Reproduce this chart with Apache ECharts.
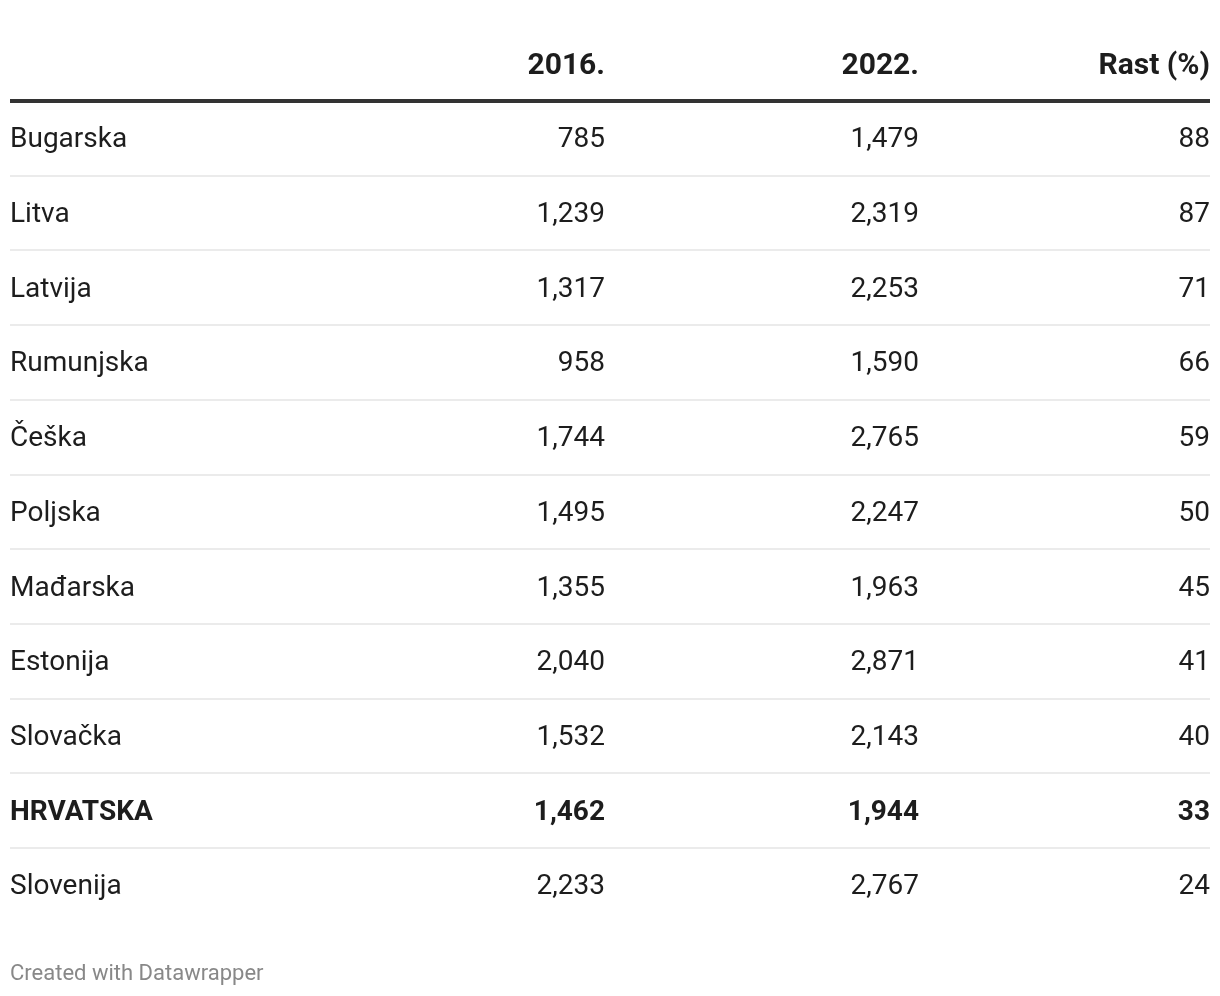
<!DOCTYPE html>
<html>
<head>
<meta charset="utf-8">
<script src="https://cdn.jsdelivr.net/npm/echarts@6/dist/echarts.min.js"></script>
<style>
html,body{margin:0;padding:0;background:#fff;}
#chart{width:1220px;height:996px;}
</style>
</head>
<body>
<div id="chart"></div>
<script>
const countries = ['Bugarska','Litva','Latvija','Rumunjska','Češka','Poljska','Mađarska','Estonija','Slovačka','HRVATSKA','Slovenija'];
const values2016 = [785,1239,1317,958,1744,1495,1355,2040,1532,1462,2233];
const values2022 = [1479,2319,2253,1590,2765,2247,1963,2871,2143,1944,2767];
const growth = [88,87,71,66,59,50,45,41,40,33,24];
const headers = ['2016.','2022.','Rast (%)'];
const highlight = 'HRVATSKA';

const FONT = 'Roboto, "Noto Sans", sans-serif';
const fmt = v => v.toLocaleString('en-US');

const chart = echarts.init(document.getElementById('chart'), null, {renderer:'canvas'});

// column right edges in x-axis units (layout)
const COLS = [595, 909, 1200];

const data = countries.map((c,i)=>[i, values2016[i], values2022[i], growth[i]]);

function renderItem(params, api){
  const i = api.value(0);
  const name = countries[i];
  const bold = name === highlight;
  const center = api.coord([0, i]);
  const band = api.size([0, 1])[1];
  const y = center[1] + 2;
  const children = [];
  const weight = bold ? 'bold' : 'normal';
  children.push({type:'text', style:{text:name, x:center[0], y:y, align:'left', verticalAlign:'middle', font: weight+' 28px '+FONT, fill:'#1d1d1d'}});
  const vals = [fmt(api.value(1)), fmt(api.value(2)), String(api.value(3))];
  for(let k=0;k<3;k++){
    const p = api.coord([COLS[k], i]);
    children.push({type:'text', style:{text:vals[k], x:p[0], y:y, align:'right', verticalAlign:'middle', font: weight+' 28px '+FONT, fill:'#1d1d1d'}});
  }
  if(i < countries.length-1){
    const l = api.coord([0,i]), r = api.coord([1200,i]);
    const ly = Math.round(center[1]+band/2);
    children.push({type:'line', shape:{x1:l[0], y1:ly, x2:r[0], y2:ly}, style:{stroke:'#ebebeb', lineWidth:2}});
  }
  if(i === 0){
    for(let k=0;k<3;k++){
      const p = api.coord([COLS[k], i]);
      children.push({type:'text', style:{text:headers[k], x:p[0], y:center[1]-band/2-35, align:'right', verticalAlign:'middle', font:'bold 30px '+FONT, fill:'#1d1d1d'}});
    }
  }
  return {type:'group', children};
}

chart.setOption({
  animation:false,
  backgroundColor:'#fff',
  grid:{left:10, right:10, top:101, height:11*74.7},
  xAxis:{type:'value', min:0, max:1200, position:'top',
    axisLine:{show:true, onZero:false, lineStyle:{color:'#333', width:4, cap:'butt'}},
    axisTick:{show:false}, axisLabel:{show:false}, splitLine:{show:false}},
  yAxis:{type:'category', inverse:true, data:countries, show:false},
  series:[{type:'custom', renderItem, data, encode:{y:0, x:1}, clip:false}],
  graphic:[{type:'text', left:10, top:963, style:{text:'Created with Datawrapper', font:'22px '+FONT, fill:'#888'}}]
});
</script>
</body>
</html>
